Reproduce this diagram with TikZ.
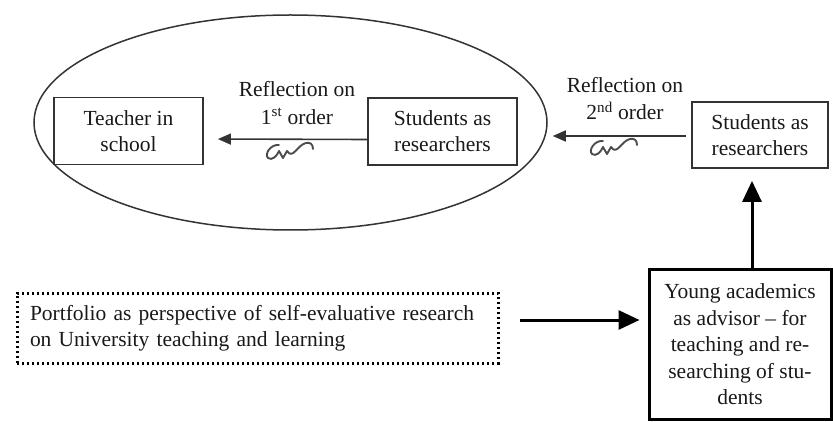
\documentclass[tikz,border=0pt]{standalone}
\usepackage{fontspec}
\setmainfont{Liberation Serif}
\usetikzlibrary{arrows.meta,shapes.geometric}
\begin{document}
\begin{tikzpicture}[x=1pt,y=-1pt,
  every node/.style={font=\fontsize{21.5}{26}\selectfont, text=black!90},
  box/.style={draw=black!80, line width=1.8pt, align=center, inner sep=0pt},
  thinarrow/.style={draw=black!80, line width=1.6pt, -{Stealth[length=13pt,width=11pt,inset=0pt]}},
  thickarrow/.style={draw=black, line width=3pt, -{Stealth[length=21pt,width=19pt,inset=0pt]}},
  lbl/.style={align=center, inner sep=0pt, font=\fontsize{21.5}{27.5}\selectfont},
  scribble/.pic={
    \draw[black!70, line width=1.9pt, line cap=round, line join=round]
      (14,3) .. controls (6,2) and (-1,12) .. (3,16)
             .. controls (7,19) and (12,14) .. (14,9)
             -- (18,16) -- (22,9)
             .. controls (28,18) and (32,3) .. (41,1)
             .. controls (45,0) and (48,2) .. (48,7);
  }
]
\useasboundingbox (0,0) rectangle (833,422);

% outer ellipse grouping the school-level reflection
\node[draw=black!80, line width=1.5pt, ellipse, minimum width=513pt, minimum height=215pt,
      inner sep=0pt] (circ) at (290.5,122.5) {};

% boxes
\node[box, minimum width=149pt, minimum height=67pt] (teacher) at (128.5,131) {Teacher in\\school};
\node[box, minimum width=149pt, minimum height=67pt] (stud1) at (442.5,131.5) {Students as\\researchers};
\node[box, minimum width=136pt, minimum height=66pt] (stud2) at (760,135) {Students as\\researchers};
\node[box, line width=3pt, draw=black, minimum width=182pt, minimum height=150pt,
      font=\fontsize{21.5}{26.5}\selectfont] (young) at (740,344.5)
  {Young academics\\as advisor -- for\\teaching and re-\\searching of stu-\\dents};
\node[draw=black, line width=3pt, dash pattern=on 2.4pt off 2.6pt, minimum height=70pt, text width=455pt,
      inner xsep=13pt, inner ysep=0pt, align=left] (portfolio) at (257.5,328)
  {Portfolio as perspective of self-evaluative research\\on University teaching and learning};

% reflection labels
\node[lbl] (ref1) at (297,103) {Reflection on\\1\textsuperscript{st} order};
\node[lbl] (ref2) at (625,98.5) {Reflection on\\2\textsuperscript{nd} order};
\pic at (265,142) {scribble};
\pic at (589,138) {scribble};

% connectors
\draw[thinarrow, shorten >=14pt] ([yshift=-8pt]stud1.west) -- ([yshift=-8pt]teacher.east);
\draw[thinarrow, shorten <=5pt, shorten >=5pt] ([yshift=-1pt]stud2.west) -- ([yshift=-1pt]stud2.west -| circ.east);
\draw[thickarrow, shorten >=12pt] ([xshift=12pt]young.north) -- ([xshift=12pt]young.north |- stud2.south);
\draw[thickarrow, shorten <=20pt, shorten >=8pt] (portfolio.east |- 0,320) -- (young.west |- 0,320);
\end{tikzpicture}
\end{document}
